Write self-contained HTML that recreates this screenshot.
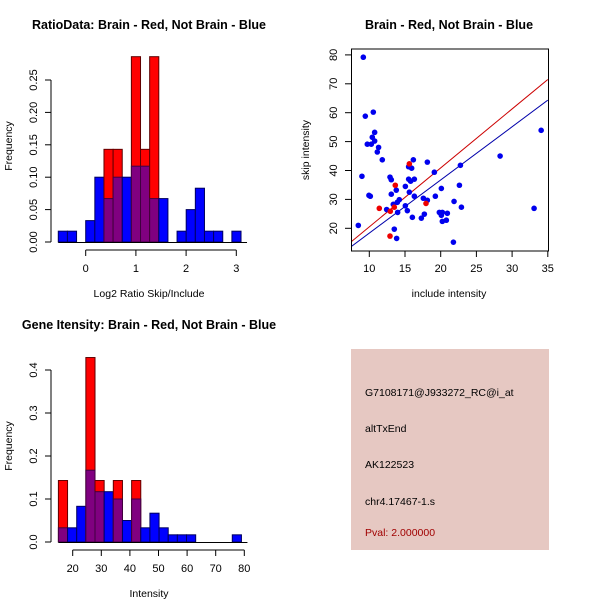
<!DOCTYPE html>
<html><head><meta charset="utf-8"><style>
body{margin:0;background:#fff;}
svg{display:block;font-family:"Liberation Sans",sans-serif;}
.t{font-weight:bold;font-size:12.5px;}
.l{font-size:10.5px;}
.k{font-size:11px;}
</style></head><body>
<svg id="s" width="600" height="600">
<rect width="600" height="600" fill="#fff"/>
<text class="t" x="149" y="29" text-anchor="middle">RatioData: Brain - Red, Not Brain - Blue</text>
<text class="t" x="449" y="29" text-anchor="middle">Brain - Red, Not Brain - Blue</text>
<text class="t" x="149" y="329" text-anchor="middle">Gene Itensity: Brain - Red, Not Brain - Blue</text>
<rect x="351" y="349" width="198" height="201" fill="#e6c8c2"/>
<text class="l" x="365" y="396">G7108171@J933272_RC@i_at</text>
<text class="l" x="365" y="432">altTxEnd</text>
<text class="l" x="365" y="468">AK122523</text>
<text class="l" x="365" y="505">chr4.17467-1.s</text>
<text class="l" x="365" y="536" fill="#a00000">Pval: 2.000000</text>
</svg>
<script>
// Ratio histogram data
const ratioBreakStart = -0.546;
const ratioBinWidth = 0.182;
const ratioBlue = [0.0167,0.0167,0,0.033,0.1,0.067,0.1,0.1,0.117,0.117,0.067,0.067,0,0.0167,0.05,0.083,0.0167,0.0167,0,0.0167];
const ratioRed = [0,0,0,0,0,0.143,0.143,0,0.286,0.143,0.286,0,0,0,0,0,0,0,0,0];
const ratioXTicks = [0,1,2,3];
const ratioYTicks = ["0.00","0.05","0.10","0.15","0.20","0.25"];
// Intensity histogram data
const intBreakStart = 15;
const intBinWidth = 3.2;
const intBlue = [0.033,0.033,0.083,0.167,0.117,0.117,0.1,0.05,0.1,0.033,0.067,0.033,0.0167,0.0167,0.0167,0,0,0,0,0.0167];
const intRed = [0.143,0,0,0.429,0.143,0,0.143,0,0.143,0,0,0,0,0,0,0,0,0,0,0];
const intXTicks = [20,30,40,50,60,70,80];
const intYTicks = ["0.0","0.1","0.2","0.3","0.4"];
// Scatter data
const blueX = [9.16,9.44,10.56,9.72,10.28,10.42,10.75,10.75,11.3,11.12,11.82,8.97,9.95,10.14,8.46,12.43,12.9,13.08,13.08,13.36,13.78,13.93,14.2,13.97,13.5,13.83,15.05,15.05,15.33,15.51,15.93,15.51,15.79,16.17,16.31,15.61,16.31,16.03,18.13,17.57,18.13,17.71,17.29,19.11,19.25,20.09,19.81,20.23,20.09,20.23,20.79,20.93,21.87,21.78,22.76,22.62,22.9,28.32,33.08,34.07];
const blueY = [79.2,58.8,60.2,49.1,49.1,51.5,53.2,50.2,48,46.4,43.7,38,31.4,31.1,21,26.5,37.7,36.8,31.8,28.3,33.2,29,29.9,25.5,19.7,16.5,34.5,27.8,26.1,41.3,40.8,37,36.3,43.7,37,32.5,31.1,23.8,42.9,30.4,29.7,24.9,23.5,39.4,31.1,33.8,25.5,25.5,24.5,22.4,22.8,25.2,29.3,15.2,41.8,34.9,27.3,45.0,26.9,53.9];
const redX = [15.61,13.64,11.4,12.94,13.5,17.94,12.9];
const redY = [42.3,34.9,26.9,25.9,27.3,28.6,17.3];
const redFit = [0.1,2.04];
const blueFit = [-0.07,1.84];
const scXTicks = [10,15,20,25,30,35];
const scYTicks = [20,30,40,50,60,70,80];

const NS="http://www.w3.org/2000/svg", svg=document.getElementById('s');
function mk(tag,attrs,parent){const e=document.createElementNS(NS,tag);for(const k in attrs)e.setAttribute(k,attrs[k]);(parent||svg).appendChild(e);return e;}
function txt(s,attrs){const e=mk('text',attrs);e.textContent=s;return e;}

function hist(o){
  const g=mk('g',{});
  
  
  const X=v=>o.x0+(v-o.xv0)*o.xs, Y=v=>o.y0-v*o.ys;
  const n=o.blue.length;
  for(let i=0;i<n;i++){
    const a=X(o.bs+i*o.bw), b=X(o.bs+(i+1)*o.bw);
    const r=o.red[i], bl=o.blue[i], m=Math.min(r,bl);
    if(r>0){const e=mk('rect',{x:a,y:Y(r),width:b-a,height:Y(0)-Y(r),fill:'#ff0000',stroke:'#600000','stroke-width':1},g);
      
      }
    if(bl>0 && bl>r){const e=mk('rect',{x:a,y:Y(bl),width:b-a,height:Y(0)-Y(bl),fill:'#0000ff',stroke:'#000060','stroke-width':1},g);
      
      }
    if(m>0){const e=mk('rect',{x:a,y:Y(m),width:b-a,height:Y(0)-Y(m),fill:'#800080',stroke:'#400040','stroke-width':1},g);
      
      }
  }
  const xa=o.yAxisBottom;
  const t0=X(o.xt[0]), t1=X(o.xt[o.xt.length-1]);
  mk('line',{x1:t0,y1:xa,x2:t1,y2:xa,stroke:'#000'});
  o.xt.forEach(v=>{mk('line',{x1:X(v),y1:xa,x2:X(v),y2:xa+6,stroke:'#000'});
    txt(String(v),{x:X(v),y:xa+22,'text-anchor':'middle',class:'k'});});
  mk('line',{x1:X(o.bs),y1:o.y0+0.5,x2:X(o.bs+n*o.bw)+6,y2:o.y0+0.5,stroke:'#000'});
  const yt=o.yt.map(Number);
  mk('line',{x1:o.yax,y1:Y(yt[0]),x2:o.yax,y2:Y(yt[yt.length-1]),stroke:'#000'});
  o.yt.forEach(s=>{const y=Y(Number(s));mk('line',{x1:o.yax-6,y1:y,x2:o.yax,y2:y,stroke:'#000'});
    const lx=o.yax-18;
    txt(s,{x:lx,y:y,'text-anchor':'middle',class:'k',transform:`rotate(-90 ${lx} ${y}) translate(0 4)`});});
}
hist({name:'ratio-histogram',x0:85.7,xv0:0,xs:50.2,y0:242,ys:648,bs:ratioBreakStart,bw:ratioBinWidth,blue:ratioBlue,red:ratioRed,xt:ratioXTicks,yt:ratioYTicks,yax:51,yAxisBottom:250});
hist({name:'intensity-histogram',x0:72.7,xv0:20,xs:2.86,y0:542,ys:430,bs:intBreakStart,bw:intBinWidth,blue:intBlue,red:intRed,xt:intXTicks,yt:intYTicks,yax:51,yAxisBottom:550});
txt('Log2 Ratio Skip/Include',{x:149,y:297,'text-anchor':'middle',class:'l'});
txt('Frequency',{x:12,y:146,'text-anchor':'middle',class:'l',transform:'rotate(-90 12 146)'});
txt('Intensity',{x:149,y:597,'text-anchor':'middle',class:'l'});
txt('Frequency',{x:12,y:446,'text-anchor':'middle',class:'l',transform:'rotate(-90 12 446)'});

(function(){
  const X=v=>369.3+(v-10)*7.14, Y=v=>228.3-(v-20)*2.89;
  const g=mk('g',{});
  
  
  mk('defs',{},g).innerHTML='<clipPath id="cp"><rect x="352" y="49" width="196" height="202"/></clipPath>';
  const lx0=7.5,lx1=35;
  const rl=mk('line',{x1:X(lx0),y1:Y(redFit[0]+redFit[1]*lx0),x2:X(lx1),y2:Y(redFit[0]+redFit[1]*lx1),stroke:'#cc0000','clip-path':'url(#cp)'},g);
  
  
  const bl=mk('line',{x1:X(lx0),y1:Y(blueFit[0]+blueFit[1]*lx0),x2:X(lx1),y2:Y(blueFit[0]+blueFit[1]*lx1),stroke:'#0000aa','clip-path':'url(#cp)'},g);
  
  
  blueX.forEach((v,i)=>{const c=mk('circle',{cx:X(v),cy:Y(blueY[i]),r:2.8,fill:'#0000ee'},g);
    
    });
  redX.forEach((v,i)=>{const c=mk('circle',{cx:X(v),cy:Y(redY[i]),r:2.8,fill:'#ee0000'},g);
    
    });
  mk('rect',{x:351.5,y:49,width:197,height:202,fill:'none',stroke:'#000'},g);
  scXTicks.forEach(v=>{mk('line',{x1:X(v),y1:251,x2:X(v),y2:257,stroke:'#000'});
    txt(String(v),{x:X(v),y:272,'text-anchor':'middle',class:'k'});});
  scYTicks.forEach(v=>{const y=Y(v);mk('line',{x1:345,y1:y,x2:351.5,y2:y,stroke:'#000'});
    txt(String(v),{x:333,y:y,'text-anchor':'middle',class:'k',transform:`rotate(-90 333 ${y}) translate(0 4)`});});
  txt('include intensity',{x:449,y:297,'text-anchor':'middle',class:'l'});
  txt('skip intensity',{x:309,y:150,'text-anchor':'middle',class:'l',transform:'rotate(-90 309 150)'});
})();
</script>
</body></html>
